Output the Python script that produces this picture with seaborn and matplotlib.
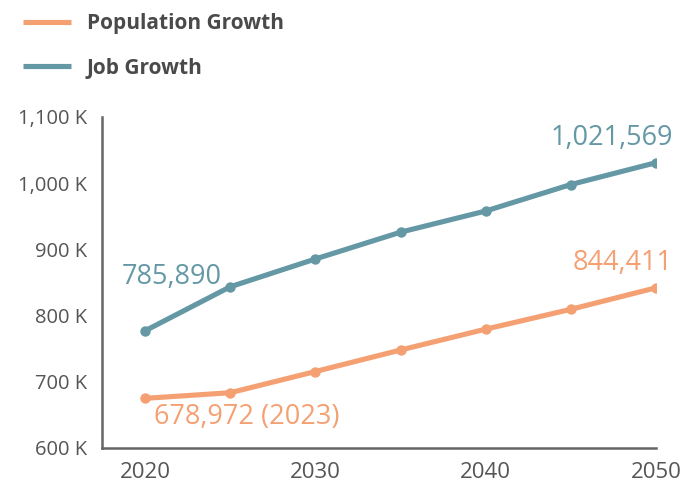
import matplotlib
matplotlib.use("Agg")
import matplotlib.pyplot as plt
from matplotlib.lines import Line2D
from matplotlib.ticker import FuncFormatter
import seaborn as sns
import pandas as pd

years = [2020, 2025, 2030, 2035, 2040, 2045, 2050]
population_k = [675, 683.5, 715.5, 748, 779.5, 809.5, 842]
jobs_k = [777, 843.5, 885.5, 926, 958, 998, 1031]
series_names = ["Population Growth", "Job Growth"]
labels_pop = ["678,972 (2023)", "844,411"]
labels_job = ["785,890", "1,021,569"]
x_ticks = [2020, 2030, 2040, 2050]
y_ticks = [600, 700, 800, 900, 1000, 1100]

ORANGE = "#F5A073"
TEAL = "#6598A5"
AXIS = "#666666"
TEXT = "#555555"

sns.set_theme(style="white")
plt.rcParams["font.family"] = ["Open Sans", "DejaVu Sans"]

fig = plt.figure(figsize=(6.81, 4.87), dpi=100)
ax = fig.add_axes([102/681, 1-448/487, (656-102)/681, (448-117)/487])

df = pd.DataFrame({"year": years * 2,
                   "value": population_k + jobs_k,
                   "series": [series_names[0]]*len(years) + [series_names[1]]*len(years)})

sns.lineplot(data=df[df.series == series_names[0]], x="year", y="value", ax=ax,
             color=ORANGE, lw=3.7, marker="o", markersize=7.5, markeredgewidth=0, legend=False)
sns.lineplot(data=df[df.series == series_names[1]], x="year", y="value", ax=ax,
             color=TEAL, lw=3.7, marker="o", markersize=7.5, markeredgewidth=0, legend=False)

ax.set_xlim(2020 - 43/17.03, 2050)
ax.set_ylim(600, 1100)
ax.set_xticks(x_ticks)
ax.set_yticks(y_ticks)
ax.yaxis.set_major_formatter(FuncFormatter(lambda v, p: f"{int(v):,} K"))
ax.set_xlabel("")
ax.set_ylabel("")
for s in ["top", "right"]:
    ax.spines[s].set_visible(False)
for s in ["left", "bottom"]:
    ax.spines[s].set_color(AXIS)
    ax.spines[s].set_linewidth(1.8)
ax.tick_params(axis="both", direction="in", length=7.2, width=1.8, color=AXIS,
               labelcolor=TEXT)
ax.tick_params(axis="y", pad=11, labelsize=14.5)
ax.tick_params(axis="x", pad=10, labelsize=16)
ax.grid(False)

fs = 19.5
ax.annotate(labels_job[0], xy=(years[0], jobs_k[0]), xytext=(19.4, 38.9),
            textcoords="offset points", ha="center", va="center", color=TEAL, fontsize=fs)
ax.annotate(labels_job[1], xy=(years[-1], jobs_k[-1]), xytext=(12.2, 17.8),
            textcoords="offset points", ha="right", va="center", color=TEAL, fontsize=fs)
ax.annotate(labels_pop[0], xy=(years[0], population_k[0]), xytext=(6.5, -13.7),
            textcoords="offset points", ha="left", va="center", color=ORANGE, fontsize=fs)
ax.annotate(labels_pop[1], xy=(years[-1], population_k[-1]), xytext=(12.2, 17.6),
            textcoords="offset points", ha="right", va="center", color=ORANGE, fontsize=fs)

handles = [Line2D([], [], color=ORANGE, lw=3.7, solid_capstyle="butt"),
           Line2D([], [], color=TEAL, lw=3.7, solid_capstyle="butt")]
fig.legend(handles, series_names, loc="upper left", bbox_to_anchor=(13/681, 1-3/487),
           frameon=False, borderpad=0, handlelength=2.3, handletextpad=0.75,
           labelspacing=1.12, prop={"weight": "bold", "size": 15}, labelcolor="#4a4a4a")

fig.savefig("out.png", dpi=100)
